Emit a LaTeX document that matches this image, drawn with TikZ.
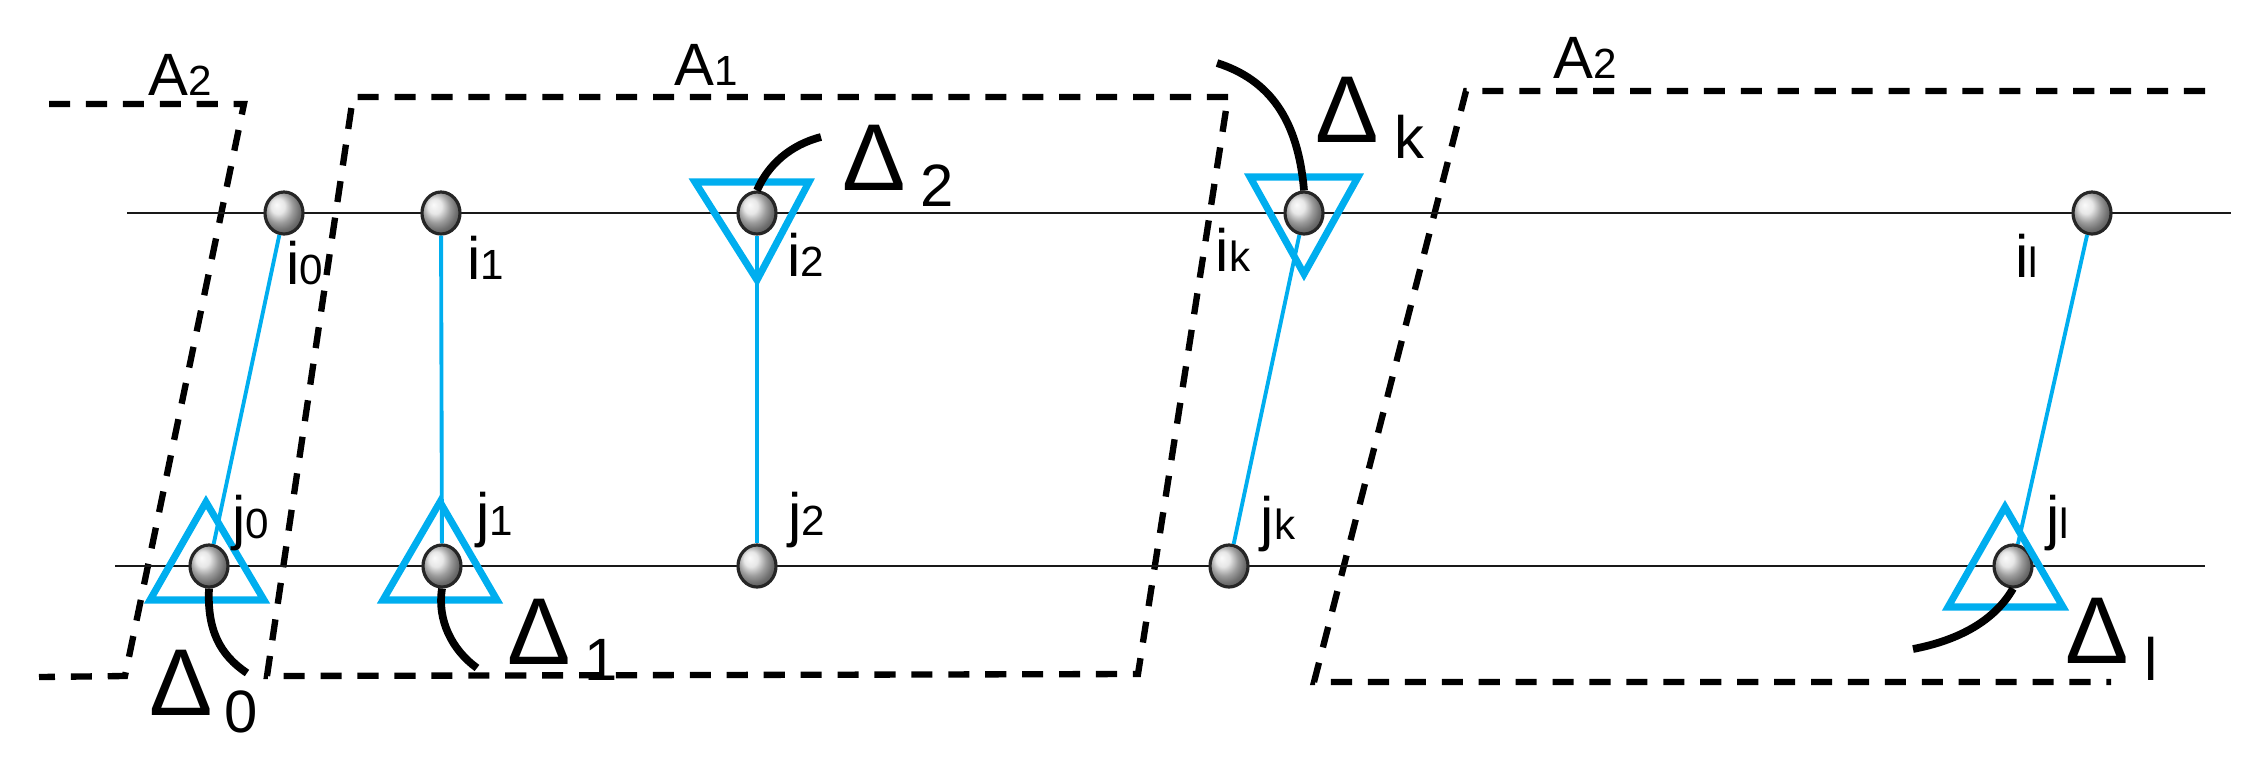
\documentclass[tikz,border=0pt]{standalone}
\usepackage{fontspec}
\usetikzlibrary{shapes.geometric}
\setmainfont{Liberation Sans}
\definecolor{cyanb}{RGB}{0,174,239}
\begin{document}
\begin{tikzpicture}[x=0.01cm,y=-0.01cm,
  ball/.style={ellipse,minimum width=0.38cm,minimum height=0.42cm,inner sep=0,draw=black!85,line width=0.9pt,shading=ball,ball color=gray!25},
  hline/.style={line width=0.8pt,black!90},
  link/.style={cyanb,line width=1.1pt},
  tri/.style={cyanb,line width=2pt},
  zone/.style={line width=1.8pt,dash pattern=on 6pt off 4.5pt},
  arc/.style={line width=2.2pt},
  lbl/.style={font=\fontsize{17}{17}\selectfont,inner sep=0},
  dl/.style={font=\fontsize{27}{27}\selectfont,inner sep=0},
  ds/.style={font=\fontsize{17}{17}\selectfont,inner sep=0,anchor=base}]
\useasboundingbox (0,0) rectangle (2248,760);
\newcommand{\sub}[1]{{\fontsize{12}{12}\selectfont #1}}
% zones
\draw[zone] (49,104) -- (244,104) -- (125,676) -- (39,677);
\draw[zone] (1228,97) -- (353,97) -- (267,676) -- (1138,674) -- cycle;
\draw[zone] (2205,91) -- (1466,91) -- (1314,682) -- (2111,682);
\node[lbl] (a2l) at (180,75) {A\sub{2}};
\node[lbl] (a1) at (706,65) {A\sub{1}};
\node[lbl] (a2r) at (1585,58) {A\sub{2}};
% rails
\draw[hline] (127,213) -- (2231,213);
\draw[hline] (115,566) -- (2205,566);
% balls
\node[ball] (i0) at (284,213) {};
\node[ball] (i1) at (441,213) {};
\node[ball] (i2) at (757,213) {};
\node[ball] (ik) at (1304,213) {};
\node[ball] (il) at (2092,213) {};
\node[ball] (j0) at (209,566) {};
\node[ball] (j1) at (442,566) {};
\node[ball] (j2) at (757,566) {};
\node[ball] (jk) at (1229,566) {};
\node[ball] (jl) at (2013,566) {};
% links
\draw[link] (i0) -- (j0);
\draw[link] (i1) -- (j1);
\draw[link] (i2) -- (j2);
\draw[link] (ik) -- (jk);
\draw[link] (il) -- (jl);
% triangles
\draw[tri] (206,502) -- (264,600) -- (150,600) -- cycle;
\draw[tri] (440,502) -- (497,600) -- (383,600) -- cycle;
\draw[tri] (695,182) -- (809,182) -- (757,280) -- cycle;
\draw[tri] (1250,177) -- (1358,177) -- (1304,274) -- cycle;
\draw[tri] (2005,507) -- (2063,607) -- (1948,607) -- cycle;
% arcs
\draw[arc] (j0.south) .. controls (207,630) and (220,655) .. (247,673);
\draw[arc] (j1.south) .. controls (437,620) and (452,650) .. (477,668);
\draw[arc] (i2.north) .. controls (768,165) and (790,145) .. (821,137);
\draw[arc] (ik.north) .. controls (1298,120) and (1270,80) .. (1217,63);
\draw[arc] (jl.south) .. controls (1995,620) and (1960,640) .. (1913,649);
% delta labels
\node[dl] (d0) at (181,683) {Δ};
\node[ds] at (241,732) {0};
\node[dl] (d1) at (539,632) {Δ};
\node[ds] at (601,680) {1};
\node[dl] (d2) at (874,158) {Δ};
\node[ds] at (937,206) {2};
\node[dl] (dk) at (1347,110) {Δ};
\node[ds] at (1409,158) {k};
\node[dl] (dll) at (2097,631) {Δ};
\node[ds] at (2151,680) {l};
% node labels
\node[lbl] at (305,263) {i\sub{0}};
\node[lbl] at (486,258) {i\sub{1}};
\node[lbl] at (806,255) {i\sub{2}};
\node[lbl] at (1233,250) {i\sub{k}};
\node[lbl] at (2027,256) {i\sub{l}};
\node[lbl] at (251,523) {j\sub{0}};
\node[lbl] at (495,520) {j\sub{1}};
\node[lbl] at (807,520) {j\sub{2}};
\node[lbl] at (1278,524) {j\sub{k}};
\node[lbl] at (2058,523) {j\sub{l}};
\end{tikzpicture}
\end{document}
